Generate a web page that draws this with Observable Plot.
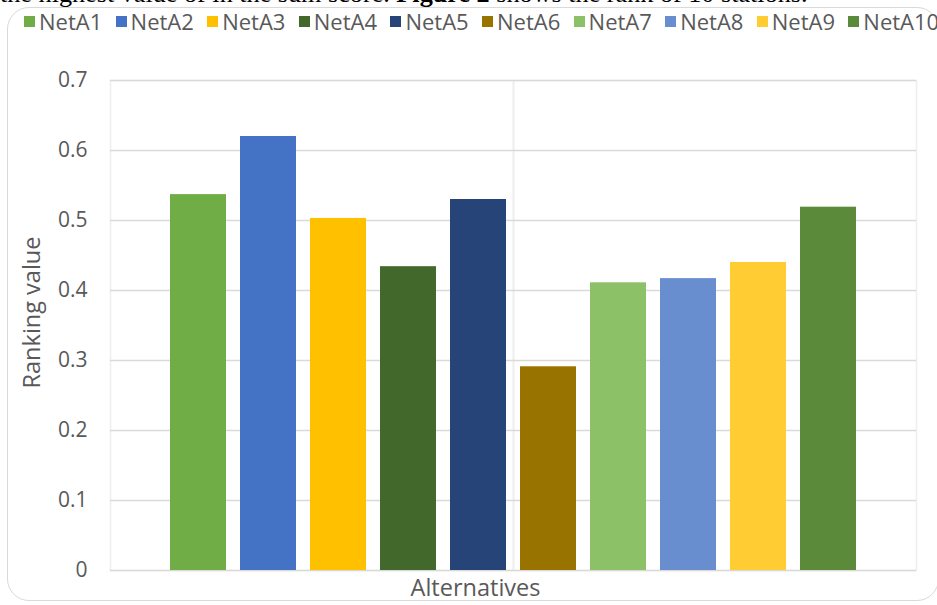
<!DOCTYPE html>
<html>
<head>
<meta charset="utf-8">
<script src="https://cdn.jsdelivr.net/npm/d3@7"></script>
<script src="https://cdn.jsdelivr.net/npm/@observablehq/plot@0.6"></script>
<style>
  html, body { margin: 0; padding: 0; background: #fff; }
  #page { position: relative; width: 937px; height: 605px; overflow: hidden; background: #fff; }
  #para {
    position: absolute; left: 0; top: -19.5px; white-space: nowrap;
    font-family: "Liberation Serif", "Times New Roman", serif; font-size: 26.2px; line-height: 1; color: #000;
  }
  #frame {
    position: absolute; left: 7px; top: 7px; width: 932px; height: 594px;
    border: 1.5px solid #d9d9d9; border-radius: 22px; box-sizing: border-box;
  }
  #legend {
    position: absolute; left: 24px; top: 8px; height: 26px; display: flex; align-items: center;
    font-family: "Open Sans", sans-serif; font-size: 22px; line-height: 1; color: #595959; white-space: nowrap;
  }
  #legend .item { display: flex; align-items: center; width: 91.6px; flex: none; }
  #legend .sw { width: 11px; height: 11px; margin-right: 4px; flex: none; }
  #chart { position: absolute; left: 0; top: 50px; }
</style>
</head>
<body>
<div id="page">
  <div id="para">the highest value of in the sum score. <b>Figure 2</b> shows the rank of 10 stations.</div>
  <div id="frame"></div>
  <div id="legend"></div>
  <div id="chart"></div>
</div>
<script>
// Ranking value of each alternative (network station)
const names = ["NetA1", "NetA2", "NetA3", "NetA4", "NetA5", "NetA6", "NetA7", "NetA8", "NetA9", "NetA10"];
const values = [0.537, 0.620, 0.503, 0.434, 0.530, 0.291, 0.411, 0.417, 0.440, 0.519];
const colors = ["#70AD47", "#4472C4", "#FFC000", "#43682B", "#264478", "#997300", "#8CC168", "#698ED0", "#FFCD33", "#5B8A3A"];
const yTicks = [0, 0.1, 0.2, 0.3, 0.4, 0.5, 0.6, 0.7];
const yTickLabels = ["0", "0.1", "0.2", "0.3", "0.4", "0.5", "0.6", "0.7"];
const xTitle = "Alternatives";
const yTitle = "Ranking value";

const data = names.map((name, i) => ({name, value: values[i]}));

// Legend row
const legend = d3.select("#legend");
names.forEach((n, i) => {
  const item = legend.append("div").attr("class", "item");
  item.append("div").attr("class", "sw").style("background", colors[i]);
  item.append("span").text(n);
});

// Layout
const width = 937, height = 555;
const margin = {top: 30, right: 21, bottom: 35, left: 110};
const paddingInner = 0.2, paddingOuter = 0.857;
const step = (width - margin.left - margin.right) / (names.length - paddingInner + 2 * paddingOuter);

const gridColor = "#d9d9d9";
const vGridColor = "#eeeeee";
const textColor = "#595959";

const chart = Plot.plot({
  width, height,
  marginTop: margin.top, marginRight: margin.right, marginBottom: margin.bottom, marginLeft: margin.left,
  style: {fontFamily: "Open Sans, sans-serif", fontSize: "21px", color: textColor, background: "transparent"},
  x: {domain: names, paddingInner, paddingOuter, axis: null},
  y: {domain: [0, 0.7], axis: null},
  color: {domain: names, range: colors},
  marks: [
    Plot.frame({stroke: vGridColor, strokeWidth: 1.5}),
    Plot.ruleX([names[4]], {stroke: vGridColor, strokeWidth: 2, dx: step / 2}),
    Plot.ruleY(yTicks, {stroke: gridColor, strokeWidth: 1.6}),
    Plot.axisY({ticks: yTicks, tickFormat: (d, i) => yTickLabels[i], tickSize: 0, tickPadding: 23, label: null, fill: textColor}),
    Plot.barY(data, {x: "name", y: "value", fill: "name"}),
    Plot.text([xTitle], {frameAnchor: "bottom", text: d => d, lineAnchor: "middle", dy: 18, dx: -38, fill: textColor, fontSize: 23.5}),
    Plot.text([yTitle], {frameAnchor: "left", text: d => d, textAnchor: "middle", rotate: -90, dx: -78, dy: -13, fill: textColor, fontSize: 23.5})
  ]
});
document.getElementById("chart").appendChild(chart);
</script>
</body>
</html>
